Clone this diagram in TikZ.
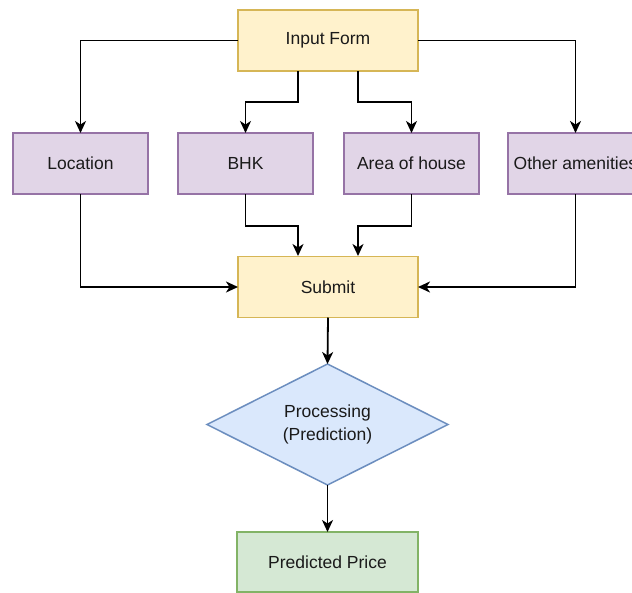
\documentclass[tikz,border=0pt]{standalone}
\usepackage{fontspec}
\setmainfont{Liberation Sans}
\usetikzlibrary{shapes.geometric,arrows.meta}
\definecolor{yfill}{HTML}{FFF2CC}\definecolor{ydraw}{HTML}{D6B656}
\definecolor{pfill}{HTML}{E1D5E7}\definecolor{pdraw}{HTML}{9673A6}
\definecolor{bfill}{HTML}{DAE8FC}\definecolor{bdraw}{HTML}{6C8EBF}
\definecolor{gfill}{HTML}{D5E8D4}\definecolor{gdraw}{HTML}{82B366}
\definecolor{txt}{HTML}{1A1A1A}
\tikzset{
  box/.style={rectangle, inner sep=0pt, outer sep=0pt, line width=1.5pt, text=txt,
    font=\fontsize{17.5}{21}\selectfont, align=center},
  ybox/.style={box, fill=yfill, draw=ydraw, minimum width=180pt, minimum height=61pt},
  pbox/.style={box, fill=pfill, draw=pdraw, minimum width=135pt, minimum height=61pt},
  gbox/.style={box, fill=gfill, draw=gdraw, minimum width=181pt, minimum height=60pt},
  dia/.style={diamond, aspect=2, inner sep=0pt, outer sep=0pt, line width=1.5pt, fill=bfill, draw=bdraw,
    minimum width=241pt, minimum height=121pt, text=txt, font=\fontsize{17.5}{23}\selectfont, align=center},
  conn/.style={line width=1.8pt, -{Stealth[length=12pt,width=11pt,inset=3.5pt]}}
}
\begin{document}
\begin{tikzpicture}[x=1pt,y=-1pt]
\useasboundingbox (0,0) rectangle (632,592);
\fill[white] (0,0) rectangle (632,592);
\node[ybox] (input) at (328,40.5) {Input Form};
\node[pbox] (loc) at (80.5,163.5) {Location};
\node[pbox] (bhk) at (245.5,163.5) {BHK};
\node[pbox] (area) at (411.5,163.5) {Area of house};
\node[pbox] (other) at (575.5,163.5) {Other amenities};
\node[ybox] (submit) at (328,287) {Submit};
\node[dia] (proc) at (327.5,424.5) {Processing\\(Prediction)};
\node[gbox] (price) at (327.5,562) {Predicted Price};
\coordinate (inL) at (298,71);
\coordinate (inR) at (358,71);
\coordinate (subL) at (298,256);
\coordinate (subR) at (358,256);
\draw[conn] (input.west) -| (loc.north);
\draw[conn] (input.east) -| (other.north);
\draw[conn] (inL) |- (245.5,102) -- (bhk.north);
\draw[conn] (inR) |- (411.5,102) -- (area.north);
\draw[conn] (loc.south) |- (submit.west);
\draw[conn] (other.south) |- (submit.east);
\draw[conn] (bhk.south) |- (298,226) -- (subL);
\draw[conn] (area.south) |- (358,226) -- (subR);
\draw[conn] (submit.south) -- (proc.north);
\draw[conn] (proc.south) -- (price.north);
\end{tikzpicture}
\end{document}
